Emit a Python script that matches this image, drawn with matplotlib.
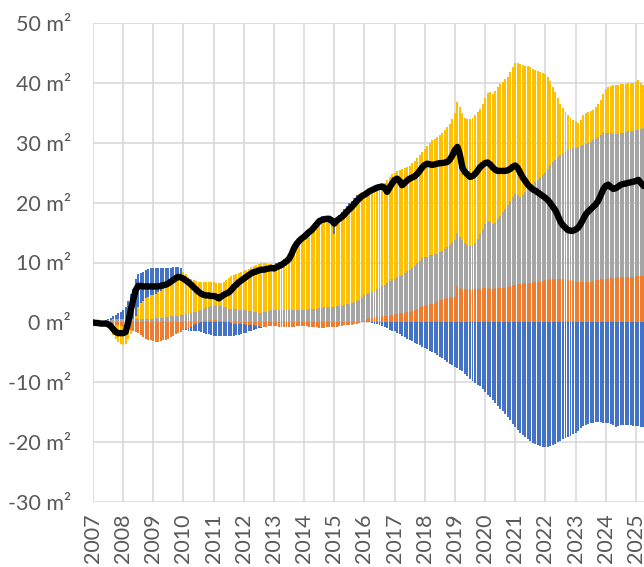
import numpy as np
import matplotlib.pyplot as plt

# ─────────────────────────────
# DATA (monthly, Jan 2007 .. May 2025), m²
# ─────────────────────────────
orange = [
    0, 0, 0, 0, 0, 0, -0.1, -0.2, -0.3, -0.4, -0.5, -0.6,
    -0.7, -0.8, -1.0, -1.2, -1.4, -1.6, -1.8, -2.1, -2.4, -2.7, -2.9, -3.0,
    -3.1, -3.2, -3.2, -3.1, -3.0, -2.9, -2.7, -2.5, -2.3, -2.0, -1.8, -1.6,
    -1.3, -1.1, -0.9, -0.7, -0.5, -0.3, -0.1, 0.1, 0.2, 0.3, 0.3, 0.4,
    0.4, 0.4, 0.3, 0.3, 0.2, 0.1, 0.0, -0.1, -0.2, -0.2, -0.3, -0.3,
    -0.3, -0.4, -0.4, -0.5, -0.5, -0.6, -0.6, -0.7, -0.7, -0.7, -0.6, -0.6,
    -0.6, -0.6, -0.7, -0.7, -0.8, -0.8, -0.8, -0.7, -0.7, -0.6, -0.6, -0.6,
    -0.6, -0.6, -0.7, -0.7, -0.8, -0.8, -0.9, -0.9, -0.9, -0.8, -0.8, -0.7,
    -0.7, -0.7, -0.6, -0.6, -0.5, -0.5, -0.5, -0.4, -0.3, -0.2, -0.1, 0.0,
    0.3, 0.5, 0.7, 0.8, 0.9, 0.9, 0.9, 1.0, 1.0, 1.1, 1.2, 1.3,
    1.4, 1.4, 1.5, 1.5, 1.6, 1.7, 1.8, 1.9, 2.1, 2.3, 2.5, 2.7,
    2.8, 2.9, 3.0, 3.1, 3.3, 3.5, 3.7, 3.8, 3.9, 4.0, 4.1, 4.2,
    4.3, 6.0, 5.8, 5.6, 5.5, 5.5, 5.5, 5.5, 5.6, 5.6, 5.6, 5.7,
    5.7, 5.7, 5.6, 5.6, 5.7, 5.7, 5.8, 5.8, 5.8, 5.9, 6.0, 6.2,
    6.3, 6.4, 6.4, 6.5, 6.5, 6.6, 6.6, 6.7, 6.7, 6.8, 6.8, 6.9,
    7.0, 7.1, 7.2, 7.2, 7.3, 7.3, 7.3, 7.2, 7.1, 7.1, 7.0, 6.9,
    6.9, 6.8, 6.8, 6.7, 6.7, 6.7, 6.8, 6.9, 7.0, 7.1, 7.2, 7.3,
    7.3, 7.3, 7.4, 7.4, 7.5, 7.5, 7.6, 7.6, 7.6, 7.6, 7.6, 7.6,
    7.7, 7.7, 7.7, 7.7, 7.7,
]
grey = [
    0, 0.1, 0.2, 0.2, 0.3, 0.3, 0.4, 0.4, 0.5, 0.5, 0.5, 0.5,
    0.5, 0.5, 0.5, 0.5, 0.5, 0.5, 0.5, 0.5, 0.5, 0.6, 0.6, 0.6,
    0.6, 0.7, 0.7, 0.8, 0.8, 0.9, 0.9, 1.0, 1.0, 1.1, 1.1, 1.2,
    1.3, 1.4, 1.5, 1.6, 1.7, 1.8, 1.9, 2.0, 2.1, 2.2, 2.3, 2.4,
    2.4, 2.5, 2.5, 2.5, 2.4, 2.4, 2.3, 2.3, 2.2, 2.2, 2.1, 2.1,
    2.0, 2.0, 1.9, 1.9, 1.8, 1.7, 1.6, 1.6, 1.7, 1.8, 1.9, 2.0,
    2.0, 2.0, 2.0, 2.0, 2.0, 2.0, 2.0, 2.0, 2.0, 2.1, 2.1, 2.1,
    2.1, 2.1, 2.2, 2.2, 2.3, 2.3, 2.4, 2.4, 2.5, 2.5, 2.5, 2.6,
    2.6, 2.7, 2.7, 2.8, 2.9, 3.0, 3.1, 3.2, 3.4, 3.6, 3.8, 4.0,
    4.2, 4.2, 4.2, 4.3, 4.4, 4.6, 4.8, 5.0, 5.3, 5.5, 5.7, 5.9,
    5.9, 6.1, 6.2, 6.4, 6.6, 6.8, 6.9, 7.1, 7.3, 7.6, 7.8, 8.1,
    8.1, 8.1, 8.2, 8.2, 8.1, 8.0, 8.0, 8.1, 8.3, 8.6, 8.9, 9.3,
    9.5, 9.0, 8.5, 8.1, 7.8, 7.5, 7.3, 7.2, 7.7, 8.4, 9.2, 9.9,
    10.7, 11.3, 11.2, 10.9, 10.9, 11.5, 12.0, 12.6, 13.1, 13.7, 14.3, 14.8,
    15.1, 14.8, 14.5, 14.7, 15.2, 15.6, 16.0, 16.3, 16.7, 17.0, 17.4, 17.7,
    17.9, 18.5, 19.1, 19.6, 19.9, 20.3, 20.7, 21.1, 21.4, 21.7, 22.0, 22.2,
    22.3, 22.5, 22.7, 23.0, 23.1, 23.3, 23.4, 23.5, 23.7, 23.9, 24.1, 24.3,
    24.4, 24.4, 24.2, 24.0, 23.9, 24.0, 24.0, 24.1, 24.2, 24.3, 24.4, 24.4,
    24.4, 24.5, 24.6, 24.7, 24.7,
]
yellow = [
    0, -0.1, -0.1, -0.2, -0.3, -0.4, -0.8, -1.3, -1.8, -2.3, -2.7, -3.0,
    -3.1, -2.8, -1.8, -0.8, 0.1, 0.5, 2.0, 2.8, 3.1, 3.4, 3.7, 3.9,
    3.9, 4.0, 4.3, 4.5, 4.8, 5.0, 5.3, 5.6, 6.0, 6.3, 6.7, 6.9,
    7.1, 6.6, 6.1, 5.7, 5.4, 5.1, 4.9, 4.6, 4.4, 4.2, 4.1, 3.9,
    3.9, 3.7, 3.7, 3.7, 4.1, 4.5, 5.1, 5.4, 5.7, 5.9, 6.2, 6.3,
    6.5, 6.7, 7.0, 7.3, 7.6, 7.9, 8.2, 8.3, 8.2, 8.1, 7.9, 7.8,
    7.6, 7.8, 7.9, 8.0, 8.2, 8.4, 8.7, 9.1, 9.8, 10.5, 11.2, 11.9,
    12.5, 12.6, 12.7, 12.9, 13.2, 13.6, 14.0, 14.3, 14.3, 14.3, 14.1, 13.8,
    12.2, 13.7, 14.3, 14.9, 15.4, 15.9, 16.4, 16.8, 17.2, 17.4, 17.6, 17.7,
    17.3, 17.3, 17.2, 17.2, 17.1, 17.0, 17.0, 16.9, 17.0, 17.2, 17.4, 17.5,
    17.7, 17.8, 17.8, 17.7, 17.6, 17.5, 17.5, 17.6, 17.6, 17.6, 17.7, 17.7,
    18.0, 18.4, 18.8, 19.1, 19.3, 19.5, 19.6, 19.8, 20.0, 20.1, 20.2, 20.4,
    21.1, 21.8, 21.6, 21.3, 20.9, 20.9, 21.1, 21.5, 21.3, 21.1, 20.8, 20.9,
    21.0, 21.3, 21.6, 21.6, 22.0, 22.1, 22.0, 21.8, 21.7, 21.4, 21.5, 21.6,
    22.0, 22.1, 22.2, 21.8, 21.2, 20.6, 20.0, 19.4, 18.8, 18.2, 17.6, 17.0,
    16.5, 15.4, 14.0, 12.5, 11.3, 9.9, 8.5, 7.5, 6.7, 5.9, 5.2, 4.7,
    4.4, 4.0, 4.3, 5.0, 5.1, 5.1, 5.1, 5.1, 5.2, 5.4, 5.9, 6.5,
    7.2, 7.6, 7.9, 8.2, 8.2, 8.2, 8.2, 8.1, 8.0, 8.0, 8.0, 8.0,
    8.1, 8.2, 7.7, 7.3, 7.4,
]
blue = [
    0, 0, 0, 0, 0, 0.1, 0.2, 0.4, 0.6, 0.8, 1.0, 1.3,
    1.6, 2.0, 3.0, 4.2, 5.0, 6.2, 5.5, 4.9, 4.8, 4.7, 4.6, 4.5,
    4.5, 4.3, 4.0, 3.7, 3.4, 3.1, 2.8, 2.5, 2.2, 1.9, 1.5, 0.9,
    0, -0.2, -0.5, -0.8, -1.0, -1.2, -1.4, -1.6, -1.8, -1.9, -2.0, -2.1,
    -2.2, -2.2, -2.3, -2.3, -2.3, -2.2, -2.2, -2.1, -2.0, -1.9, -1.8, -1.7,
    -1.5, -1.3, -1.1, -0.9, -0.7, -0.5, -0.3, -0.2, -0.1, 0, 0, 0,
    0, 0.1, 0.2, 0.3, 0.4, 0.5, 0.5, 0.4, 0.3, 0.3, 0.3, 0.3,
    0.3, 0.5, 0.7, 0.8, 0.9, 1.0, 1.0, 1.0, 1.0, 1.0, 1.1, 1.2,
    2.5, 1.2, 1.0, 0.8, 0.6, 0.5, 0.4, 0.3, 0.2, 0.2, 0.1, 0.1,
    0, 0, 0, -0.1, -0.2, -0.3, -0.4, -0.6, -0.8, -1.0, -1.2, -1.4,
    -1.5, -1.7, -2.0, -2.2, -2.5, -2.7, -2.9, -3.1, -3.4, -3.6, -3.8, -4.1,
    -4.3, -4.5, -4.7, -4.9, -5.1, -5.4, -5.7, -6.0, -6.3, -6.6, -6.9, -7.2,
    -7.5, -7.7, -7.9, -8.2, -8.6, -9.0, -9.5, -9.8, -10.1, -10.4, -10.7, -11.1,
    -11.6, -12.1, -12.5, -12.9, -13.4, -13.9, -14.4, -14.8, -15.3, -15.8, -16.3, -16.9,
    -17.4, -17.9, -18.4, -18.8, -19.2, -19.5, -19.8, -20.1, -20.3, -20.5, -20.7, -20.8,
    -20.8, -20.8, -20.7, -20.5, -20.3, -20.0, -19.8, -19.5, -19.3, -19.1, -18.9, -18.7,
    -18.5, -18.1, -17.7, -17.3, -17.1, -16.9, -16.8, -16.8, -16.7, -16.7, -16.7, -16.8,
    -16.8, -16.8, -16.9, -17.2, -17.4, -17.3, -17.2, -17.2, -17.1, -17.2, -17.2, -17.3,
    -17.3, -17.3, -17.4, -17.4, -17.4,
]
total = [
    0, -0.1, -0.1, -0.2, -0.2, -0.2, -0.3, -0.6, -1.1, -1.6, -1.8, -1.8,
    -1.8, -1.6, 0.0, 2.0, 3.8, 5.4, 6.1, 6.1, 6.0, 6.0, 6.0, 6.0,
    6.0, 6.0, 6.0, 6.1, 6.2, 6.3, 6.5, 6.8, 7.1, 7.4, 7.6, 7.5,
    7.3, 7.0, 6.7, 6.3, 5.9, 5.5, 5.1, 4.8, 4.6, 4.5, 4.5, 4.4,
    4.4, 4.3, 4.0, 4.3, 4.6, 4.8, 5.0, 5.4, 5.9, 6.3, 6.7, 7.0,
    7.3, 7.6, 7.9, 8.2, 8.4, 8.5, 8.7, 8.8, 8.8, 8.9, 9.0, 9.1,
    9.0, 9.2, 9.4, 9.6, 9.9, 10.2, 10.6, 11.4, 12.4, 13.1, 13.6, 14.0,
    14.3, 14.7, 15.1, 15.4, 15.9, 16.4, 16.9, 17.1, 17.2, 17.3, 17.3, 17.0,
    16.5, 17.0, 17.3, 17.6, 18.0, 18.5, 18.9, 19.3, 19.8, 20.3, 20.7, 21.1,
    21.3, 21.6, 21.9, 22.1, 22.3, 22.5, 22.6, 22.7, 22.5, 21.8, 22.5, 23.2,
    23.8, 24.0, 23.6, 22.9, 23.3, 23.7, 24.0, 24.2, 24.4, 24.8, 25.3, 25.9,
    26.3, 26.5, 26.4, 26.3, 26.4, 26.5, 26.6, 26.6, 26.7, 26.8, 27.2, 27.9,
    28.8, 29.3, 28.0, 25.8, 25.1, 24.7, 24.3, 24.4, 24.8, 25.3, 25.9, 26.3,
    26.6, 26.7, 26.4, 25.9, 25.5, 25.3, 25.3, 25.3, 25.3, 25.4, 25.6, 26.0,
    26.2, 25.8, 25.0, 24.2, 23.6, 23.0, 22.6, 22.2, 22.0, 21.7, 21.4, 21.1,
    20.8, 20.4, 19.9, 19.3, 18.7, 17.8, 16.8, 16.2, 15.8, 15.4, 15.3, 15.3,
    15.5, 15.8, 16.4, 17.2, 18.0, 18.5, 18.9, 19.3, 19.7, 20.3, 21.2, 22.2,
    22.8, 23.0, 22.6, 22.3, 22.4, 22.7, 23.0, 23.1, 23.2, 23.3, 23.4, 23.5,
    23.6, 23.8, 23.3, 22.8, 22.7,
]
years = list(range(2007, 2026))
y_ticks = list(range(-30, 51, 10))

# ─────────────────────────────
# PLOT
# ─────────────────────────────
plt.rcParams['font.family'] = ['Lato', 'DejaVu Sans']

fig = plt.figure(figsize=(6.44, 5.67), dpi=100)
ax = fig.add_axes([93 / 644, 1 - 502 / 567, 1 - 93 / 644, (502 - 23) / 567])

x = 2007 + np.arange(len(total)) / 12

series = [(orange, '#ED7D31'), (grey, '#A5A5A5'),
          (yellow, '#FFC000'), (blue, '#4472C4')]

pos_base = np.zeros(len(x))
neg_base = np.zeros(len(x))
for vals, col in series:
    v = np.array(vals, dtype=float)
    bottom = np.where(v >= 0, pos_base, neg_base)
    ax.bar(x, v, width=0.78 / 12, bottom=bottom, color=col,
           linewidth=0, zorder=2)
    pos_base += np.clip(v, 0, None)
    neg_base += np.clip(v, None, 0)

ax.plot(x, total, color='black', lw=4.6, solid_joinstyle='round',
        solid_capstyle='round', zorder=3)

ax.set_xlim(2007, 2025.27)
ax.set_ylim(-30, 50)
ax.set_xticks(years)
ax.set_xticklabels([str(y) for y in years], rotation=90)
ax.set_yticks(y_ticks)
ax.set_yticklabels([f'{v} m²' for v in y_ticks])

ax.grid(True, color='#D9D9D9', lw=1.2, zorder=0)
ax.set_axisbelow(True)
for s in ax.spines.values():
    s.set_visible(False)
ax.tick_params(length=0, colors='#595959', labelsize=15.5)
ax.tick_params(axis='y', pad=16)
ax.tick_params(axis='x', pad=8)

plt.savefig('out.png', dpi=100)
